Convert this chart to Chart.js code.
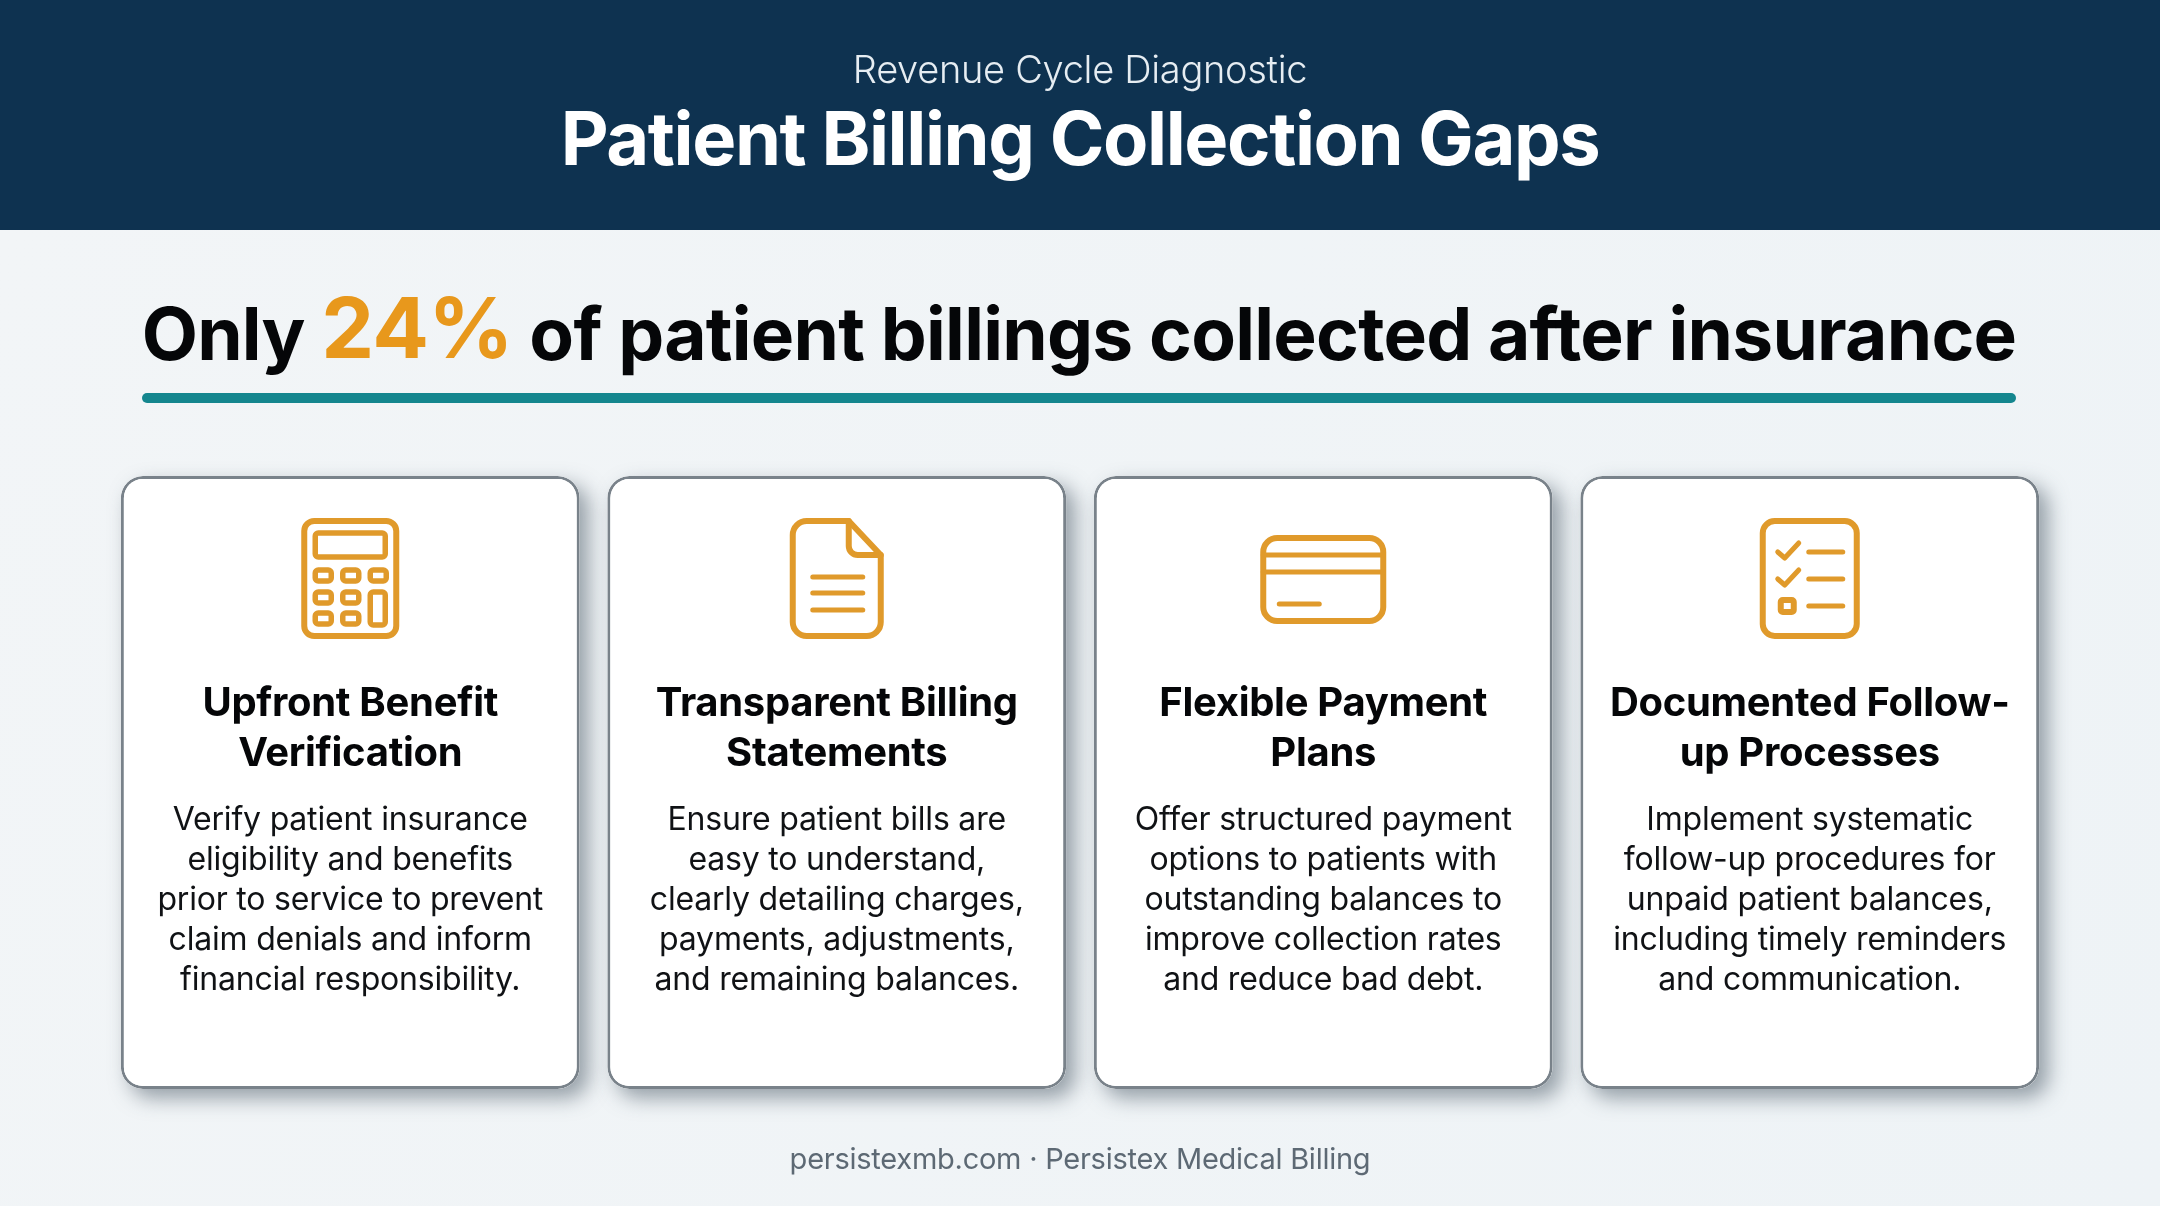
<!DOCTYPE html>
<html>
<head>
<meta charset="utf-8">
<title>Patient Billing Collection Gaps</title>
<script src="https://cdn.jsdelivr.net/npm/chart.js@4"></script>
<style>
    html, body { margin: 0; padding: 0; background: #f1f5f7; overflow: hidden; }
    canvas { display: block; }
</style>
</head>
<body>
<canvas id="myChart" width="2160" height="1206"></canvas>
<script>
// Text and values
const kicker = 'Revenue Cycle Diagnostic';
const title = 'Patient Billing Collection Gaps';
const collectedPct = 24;
const footer = 'persistexmb.com · Persistex Medical Billing';

const cardNames = ['Upfront Benefit Verification', 'Transparent Billing Statements', 'Flexible Payment Plans', 'Documented Follow-up Processes'];
const cardTitles = [
    ['Upfront Benefit', 'Verification'],
    ['Transparent Billing', 'Statements'],
    ['Flexible Payment', 'Plans'],
    ['Documented Follow-', 'up Processes']
];
const cardBodies = [
    ['Verify patient insurance', 'eligibility and benefits', 'prior to service to prevent', 'claim denials and inform', 'financial responsibility.'],
    ['Ensure patient bills are', 'easy to understand,', 'clearly detailing charges,', 'payments, adjustments,', 'and remaining balances.'],
    ['Offer structured payment', 'options to patients with', 'outstanding balances to', 'improve collection rates', 'and reduce bad debt.'],
    ['Implement systematic', 'follow-up procedures for', 'unpaid patient balances,', 'including timely reminders', 'and communication.']
];
const cardFill = [1, 1, 1, 1]; // every card fills the whole value axis

const NAVY = '#0e3250';
const ORANGE = '#e8981c';
const ICON = '#e09a2b';
const TEAL = '#14868e';
const INK = '#050608';

function setFont(ctx, font, spacing) {
    ctx.font = font;
    ctx.letterSpacing = (spacing || 0) + 'px';
}

function text(ctx, str, x, y, font, color, align, spacing) {
    setFont(ctx, font, spacing);
    ctx.fillStyle = color;
    ctx.textAlign = align || 'center';
    ctx.textBaseline = 'middle';
    ctx.fillText(str, x, y);
}

function rrect(ctx, x, y, w, h, r) {
    ctx.beginPath();
    ctx.roundRect(x, y, w, h, r);
    ctx.stroke();
}

function line(ctx, pts) {
    ctx.beginPath();
    pts.forEach((p, i) => i ? ctx.lineTo(p[0], p[1]) : ctx.moveTo(p[0], p[1]));
    ctx.stroke();
}

// Icons are drawn around the centre of each card
const icons = [
    (ctx, c) => { // calculator
        ctx.lineWidth = 6;
        rrect(ctx, c - 46, 521, 92, 115, 10);
        ctx.lineWidth = 5.5;
        rrect(ctx, c - 35, 533, 70, 24, 3);
        [[570, 3], [592, 2], [613, 2]].forEach(row => {
            for (let i = 0; i < row[1]; i++) rrect(ctx, c - 35 + i * 27.5, row[0], 16, 11, 3);
        });
        rrect(ctx, c + 20, 592, 15, 33, 3);
    },
    (ctx, c) => { // document
        ctx.lineWidth = 6;
        ctx.beginPath();
        ctx.moveTo(c + 12, 521);
        ctx.lineTo(c - 30, 521);
        ctx.arcTo(c - 44, 521, c - 44, 535, 14);
        ctx.lineTo(c - 44, 621);
        ctx.arcTo(c - 44, 636, c - 30, 636, 14);
        ctx.lineTo(c + 30, 636);
        ctx.arcTo(c + 44, 636, c + 44, 621, 14);
        ctx.lineTo(c + 44, 555);
        ctx.closePath();
        ctx.stroke();
        ctx.beginPath();
        ctx.moveTo(c + 12, 521);
        ctx.lineTo(c + 12, 546);
        ctx.arcTo(c + 12, 555, c + 21, 555, 9);
        ctx.lineTo(c + 44, 555);
        ctx.stroke();
        ctx.lineWidth = 5;
        [577, 593, 610].forEach(y => line(ctx, [[c - 24, y], [c + 26, y]]));
    },
    (ctx, c) => { // credit card
        ctx.lineWidth = 6;
        rrect(ctx, c - 60, 538, 120, 83, 14);
        ctx.lineWidth = 5;
        line(ctx, [[c - 60, 555], [c + 60, 555]]);
        line(ctx, [[c - 60, 572], [c + 60, 572]]);
        line(ctx, [[c - 44, 604], [c - 4, 604]]);
    },
    (ctx, c) => { // checklist
        ctx.lineWidth = 6;
        rrect(ctx, c - 47, 521, 94, 115, 12);
        ctx.lineWidth = 5;
        [552, 579].forEach(y => {
            line(ctx, [[c - 32, y], [c - 25, y + 6], [c - 11, y - 9]]);
            line(ctx, [[c - 1, y], [c + 33, y]]);
        });
        ctx.lineWidth = 6;
        rrect(ctx, c - 29, 600, 13, 12, 2);
        ctx.lineWidth = 5;
        line(ctx, [[c - 1, 606], [c + 33, 606]]);
    }
];

const pagePlugin = {
    id: 'page',
    beforeDraw(chart) {
        const { ctx, width, height } = chart;
        ctx.save();
        // page background and header band
        const bg = ctx.createLinearGradient(0, 229, width, height);
        bg.addColorStop(0, '#f2f5f7');
        bg.addColorStop(1, '#eef3f6');
        ctx.fillStyle = bg;
        ctx.fillRect(0, 0, width, height);
        ctx.fillStyle = NAVY;
        ctx.fillRect(0, 0, width, 230);

        text(ctx, kicker, 1080, 72, '300 38px Inter', '#e6edf2', 'center', -0.3);
        text(ctx, title, 1080, 143, '700 74px Inter', '#ffffff', 'center', -1.4);

        // headline, three runs side by side
        const a = 'Only ', b = collectedPct + '%', c = ' of patient billings collected after insurance';
        const fontA = '700 73px Inter', fontB = '700 84px Inter';
        setFont(ctx, fontA, -0.75);
        const wa = ctx.measureText(a).width, wc = ctx.measureText(c).width;
        setFont(ctx, fontB, -0.75);
        const wb = ctx.measureText(b).width;
        const x = 1079 - (wa + wb + wc) / 2;
        text(ctx, a, x, 338, fontA, INK, 'left', -0.75);
        text(ctx, b, x + wa, 333, fontB, ORANGE, 'left', -0.75);
        text(ctx, c, x + wa + wb, 338, fontA, INK, 'left', -0.75);

        // teal rule
        ctx.fillStyle = TEAL;
        ctx.beginPath();
        ctx.roundRect(142, 393, 1874, 10, 5);
        ctx.fill();

        text(ctx, footer, 1080, 1160, '400 29px Inter', '#5d6974', 'center', -0.25);
        ctx.restore();
    },
    beforeDatasetDraw(chart) {
        // the bar element clips to its own box, so its shadow goes underneath first
        const ctx = chart.ctx;
        ctx.save();
        ctx.shadowColor = 'rgba(60, 75, 90, 0.5)';
        ctx.shadowBlur = 20;
        ctx.shadowOffsetX = 9;
        ctx.shadowOffsetY = 9;
        ctx.fillStyle = '#ffffff';
        chart.getDatasetMeta(0).data.forEach(bar => {
            ctx.beginPath();
            ctx.roundRect(bar.x - bar.width / 2, bar.y, bar.width, bar.base - bar.y, 22);
            ctx.fill();
        });
        ctx.restore();
    },
    afterDatasetsDraw(chart) {
        const ctx = chart.ctx;
        chart.getDatasetMeta(0).data.forEach((bar, i) => {
            const c = bar.x;
            ctx.save();
            ctx.strokeStyle = ICON;
            ctx.lineCap = 'round';
            ctx.lineJoin = 'round';
            icons[i](ctx, c);
            ctx.restore();
            cardTitles[i].forEach((l, j) => text(ctx, l, c, 704 + j * 50, '700 40px Inter', INK, 'center', -0.3));
            cardBodies[i].forEach((l, j) => text(ctx, l, c, 820 + j * 40, '400 32px Inter', '#101215', 'center', -0.2));
        });
    }
};

new Chart(document.getElementById('myChart').getContext('2d'), {
    type: 'bar',
    data: {
        labels: cardNames,
        datasets: [{
            label: 'Cards',
            data: cardFill,
            backgroundColor: '#ffffff',
            borderColor: '#79828a',
            borderWidth: 3,
            borderSkipped: false,
            borderRadius: 22,
            categoryPercentage: 1,
            barPercentage: 0.943
        }]
    },
    options: {
        responsive: false,
        animation: false,
        devicePixelRatio: 1,
        layout: { padding: { left: 107, right: 107, top: 476, bottom: 117 } },
        scales: {
            x: { display: false },
            y: { display: false, min: 0, max: 1 }
        },
        plugins: {
            legend: { display: false },
            tooltip: { enabled: false }
        }
    },
    plugins: [pagePlugin]
});
</script>
</body>
</html>
